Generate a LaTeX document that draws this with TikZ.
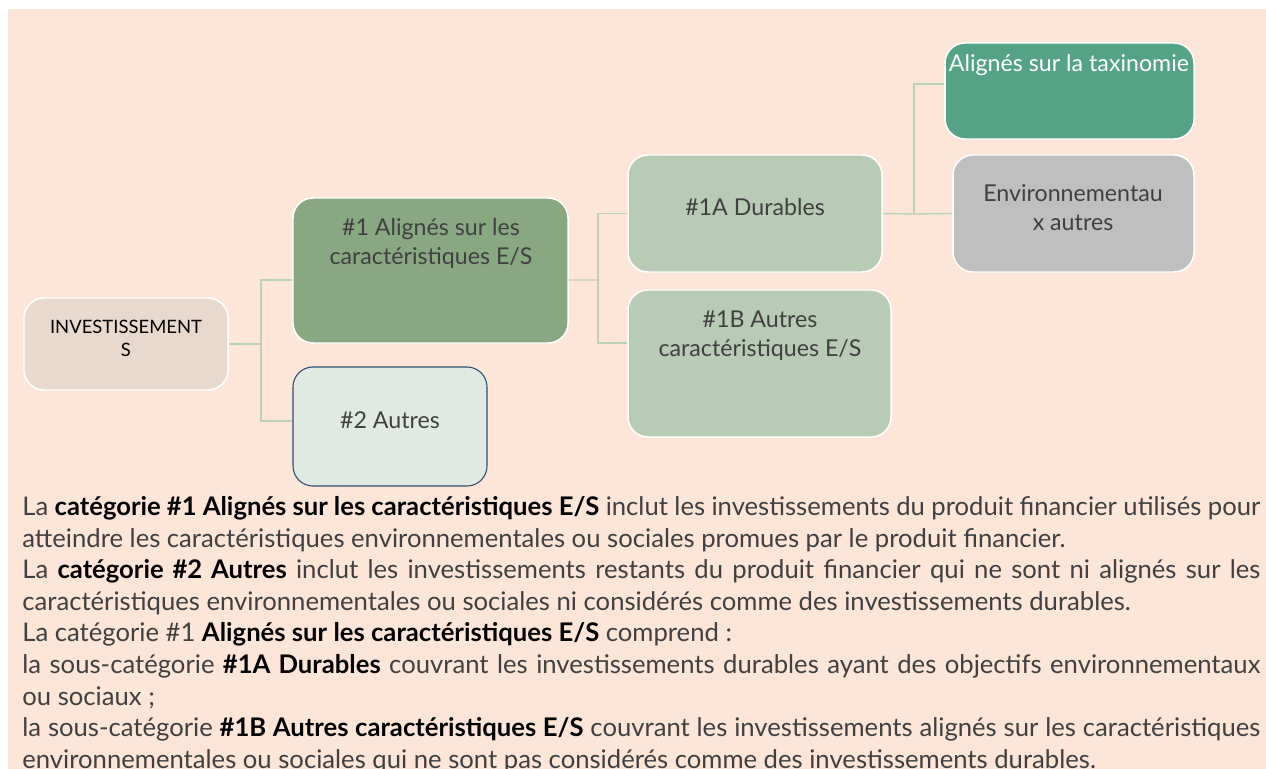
\documentclass[tikz,border=0pt]{standalone}
\usepackage{fontspec}
\setmainfont{Lato}
\usetikzlibrary{positioning}
\definecolor{fond}{RGB}{253,230,216}
\definecolor{beige}{RGB}{232,217,204}
\definecolor{vertfonce}{RGB}{136,168,130}
\definecolor{vertclair}{RGB}{184,203,181}
\definecolor{vertpale}{RGB}{225,234,226}
\definecolor{vertemeraude}{RGB}{85,163,134}
\definecolor{grisbox}{RGB}{191,191,191}
\definecolor{marine}{RGB}{47,76,110}
\definecolor{lienvert}{RGB}{185,210,180}
\definecolor{texte}{RGB}{64,64,64}
\newcommand{\gras}[1]{{\bfseries\color{black}#1}}

\begin{document}
\begin{tikzpicture}[x=0.2mm, y=0.2mm]
\tikzstyle{every node}+=[inner sep=0pt]
\tikzstyle{boite}=[draw=white, line width=0.85pt, rounded corners=0.4cm]
\tikzstyle{etiq}=[align=center, text=texte, font=\fontsize{13.2}{16.4}\selectfont]
\tikzstyle{lien}=[draw=lienvert, line width=0.8pt]
\useasboundingbox (0,0) rectangle (1266,-769);
\clip (0,0) rectangle (1266,-769);
\fill [fond] (8,-9) rectangle (1266,-769);
\node [boite, fill=beige, minimum width=4.08cm, minimum height=1.84cm] (inv) at (126,-344) {};
\node [boite, fill=vertfonce, minimum width=5.5cm, minimum height=2.9cm] (al1) at (430.5,-270.5) {};
\node [boite, draw=marine, line width=0.6pt, fill=vertpale, minimum width=3.88cm, minimum height=2.38cm] (aut) at (390,-426.5) {};
\node [boite, fill=vertclair, minimum width=5.08cm, minimum height=2.34cm] (dur) at (755,-213.5) {};
\node [boite, fill=vertclair, minimum width=5.26cm, minimum height=2.94cm] (aut1b) at (759.5,-363.5) {};
\node [boite, fill=vertemeraude, minimum width=4.98cm, minimum height=1.92cm] (tax) at (1069.5,-91) {};
\node [boite, fill=grisbox, minimum width=4.82cm, minimum height=2.34cm] (env) at (1073.5,-213.5) {};
\node [etiq, text=black, font=\fontsize{10.5}{13}\selectfont] (tinv) at (126,-338) {INVESTISSEMENT\\S};
\node [etiq] (tal1) at (431,-243.5) {\#1 Alignés sur les\\caractéristiques E/S};
\node [etiq] (taut) at (390,-420) {\#2 Autres};
\node [etiq] (tdur) at (755,-207) {\#1A Durables};
\node [etiq] (taut1b) at (760,-335.5) {\#1B Autres\\caractéristiques E/S};
\node [etiq, text=white] (ttax) at (1069,-65) {Alignés sur la taxinomie};
\node [etiq] (tenv) at (1073,-207.5) {Environnementau\\x autres};
\coordinate (f1) at (261,-344);
\coordinate (f2) at (598,-280);
\coordinate (f3) at (914,-214);
\draw [lien] (inv.east) -- (f1);
\draw [lien] (f1) |- ([yshift=-0.19cm]al1.west);
\draw [lien] (f1) |- ([yshift=0.11cm]aut.west);
\draw [lien] ([yshift=-0.19cm]al1.east) -- (f2);
\draw [lien] (f2) |- (dur.west);
\draw [lien] (f2) |- ([yshift=0.41cm]aut1b.west);
\draw [lien] (dur.east) -- (f3);
\draw [lien] (f3) |- ([yshift=0.14cm]tax.west);
\draw [lien] (f3) -- (env.west);
\node [anchor=north west, text width=24.76cm, align=justify, text=texte, font=\fontsize{14.6}{18}\selectfont] (para) at (22,-496) {%
La \gras{catégorie \#1 Alignés sur les caractéristiques E/S} inclut les investissements du produit financier utilisés pour\linebreak
atteindre les caractéristiques environnementales ou sociales promues par le produit financier.\\
La \gras{catégorie \#2 Autres} inclut les investissements restants du produit financier qui ne sont ni alignés sur les\linebreak
caractéristiques environnementales ou sociales ni considérés comme des investissements durables.\\
La catégorie \#1 \gras{Alignés sur les caractéristiques E/S} comprend~:\\
la sous-catégorie \gras{\#1A Durables} couvrant les investissements durables ayant des objectifs environnementaux\linebreak
ou sociaux~;\\
la sous-catégorie \gras{\#1B Autres caractéristiques E/S} couvrant les investissements alignés sur les caractéristiques\linebreak
environnementales ou sociales qui ne sont pas considérés comme des investissements durables.};
\end{tikzpicture}
\end{document}
